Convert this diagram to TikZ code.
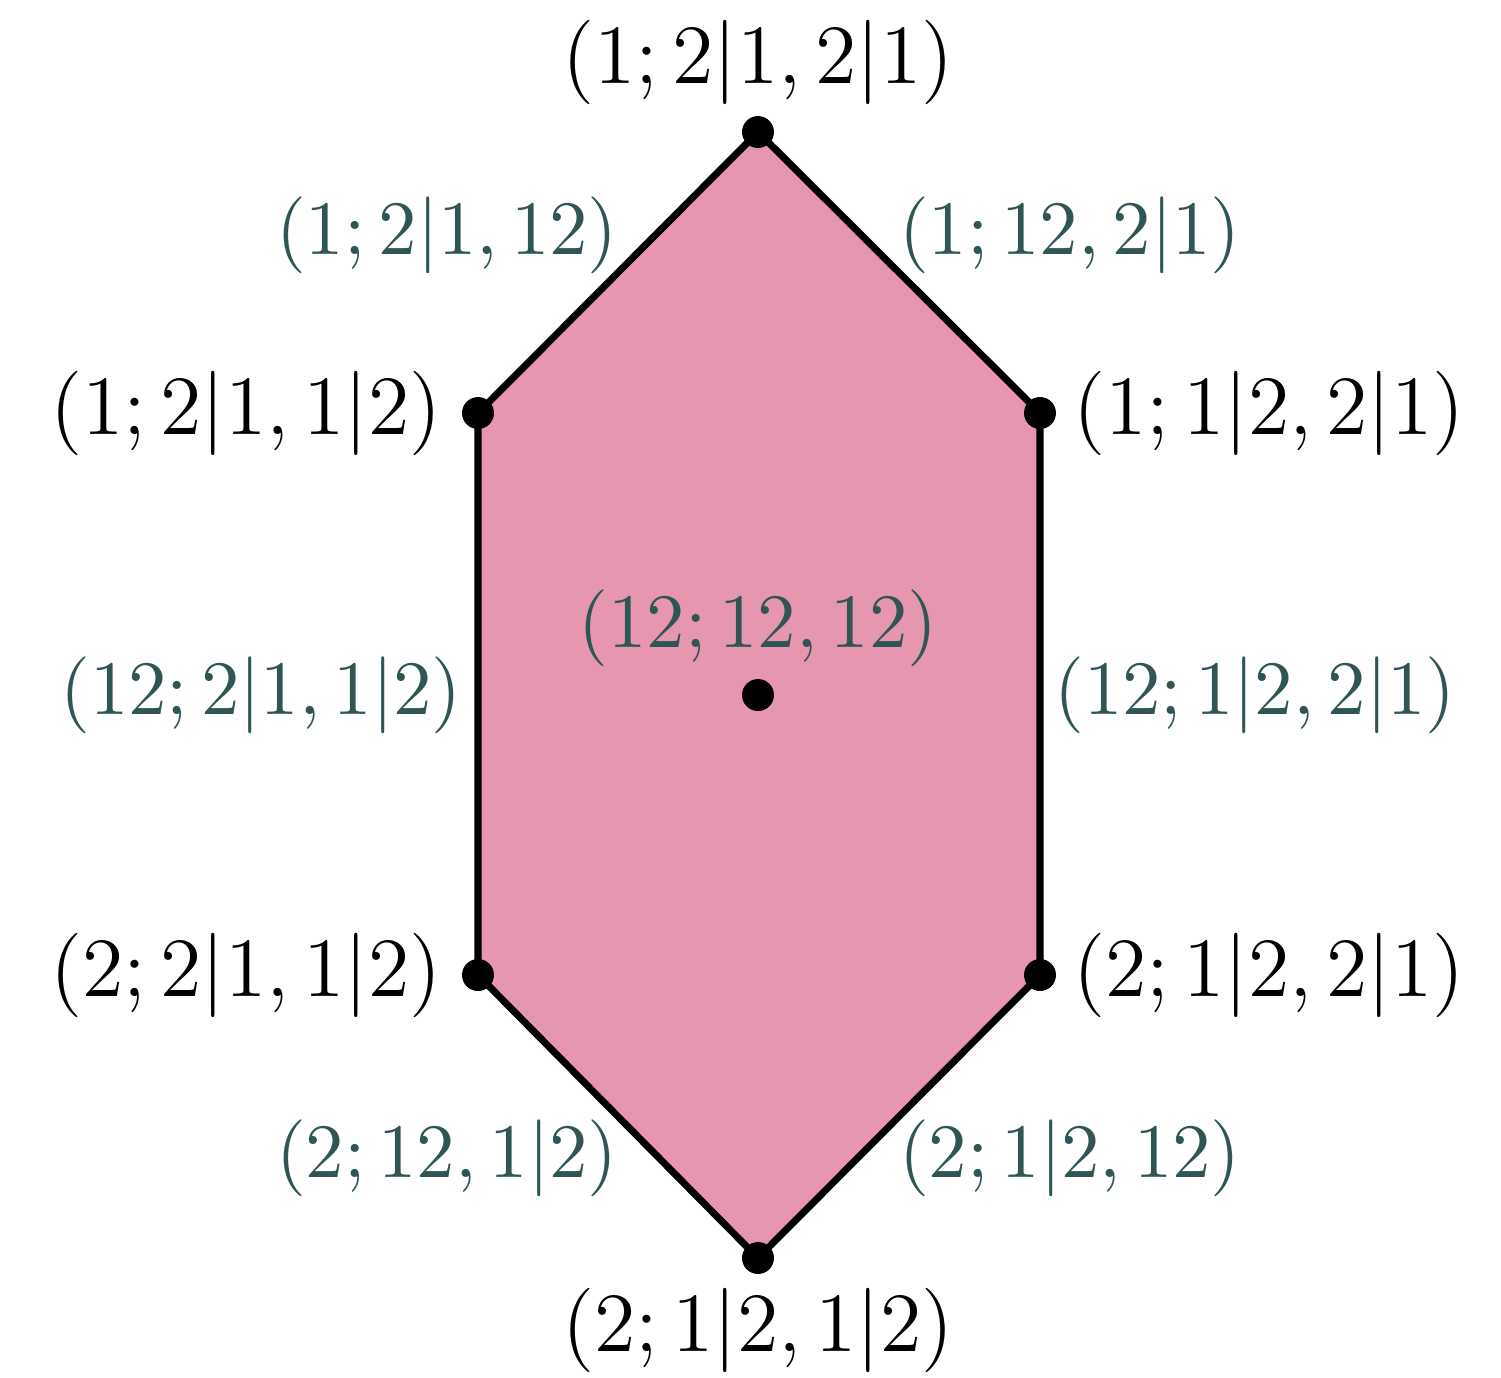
\documentclass[tikz,border=0pt]{standalone}
\definecolor{hexfill}{RGB}{231,150,176}
\definecolor{edgelab}{RGB}{47,85,85}
\begin{document}
\begin{tikzpicture}[x=0.005cm,y=-0.005cm,
  vlab/.style={font=\fontsize{12.5}{15}\selectfont, inner sep=0pt},
  elab/.style={font=\fontsize{11.4}{14}\selectfont, inner sep=0pt, text=edgelab},
  vdot/.style={circle, fill=black, inner sep=0pt, minimum size=0.16cm}]
\useasboundingbox (0,0) rectangle (1501,1378);
\coordinate (T) at (758,132);
\coordinate (UL) at (478,413);
\coordinate (UR) at (1040,413);
\coordinate (LL) at (478,975);
\coordinate (LR) at (1040,975);
\coordinate (B) at (758,1258);
\coordinate (C) at (758,695);
\filldraw[fill=hexfill, draw=black, line width=1pt, line join=round]
  (T) -- (UR) -- (LR) -- (B) -- (LL) -- (UL) -- cycle;
\foreach \p in {T,UL,UR,LL,LR,B,C} \node[vdot] (d\p) at (\p) {};
\node[vlab] (lT) at (758,62) {$(1;2|1,2|1)$};
\node[vlab, anchor=east] (lUL) at (443,413) {$(1;2|1,1|2)$};
\node[vlab, anchor=west] (lUR) at (1072,413) {$(1;1|2,2|1)$};
\node[vlab, anchor=east] (lLL) at (443,975) {$(2;2|1,1|2)$};
\node[vlab, anchor=west] (lLR) at (1072,975) {$(2;1|2,2|1)$};
\node[vlab] (lB) at (758,1330) {$(2;1|2,1|2)$};
\node[elab] (e1) at (447,235) {$(1;2|1,12)$};
\node[elab] (e2) at (1070,235) {$(1;12,2|1)$};
\node[elab] (e3) at (261,695) {$(12;2|1,1|2)$};
\node[elab] (e4) at (1255,695) {$(12;1|2,2|1)$};
\node[elab] (e5) at (758,628) {$(12;12,12)$};
\node[elab] (e6) at (447,1158) {$(2;12,1|2)$};
\node[elab] (e7) at (1070,1158) {$(2;1|2,12)$};
\end{tikzpicture}
\end{document}
